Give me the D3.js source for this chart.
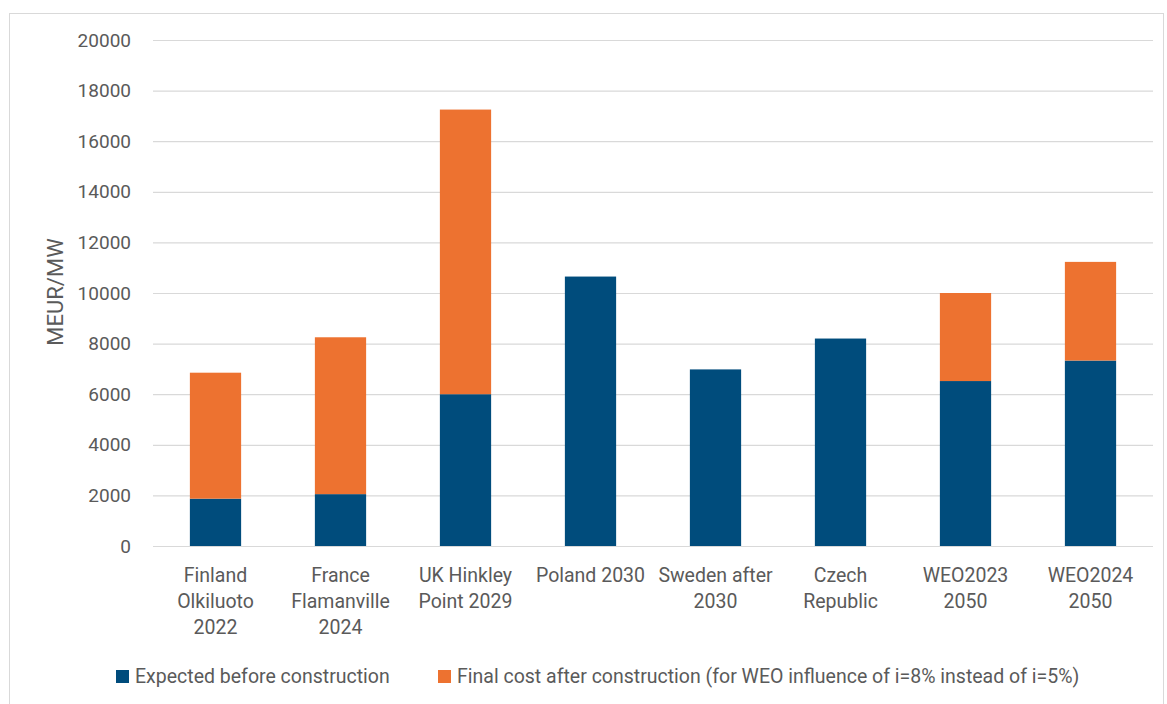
<!DOCTYPE html>
<html>
<head>
<meta charset="utf-8">
<script src="https://cdn.jsdelivr.net/npm/d3@7"></script>
<style>
  html, body { margin: 0; padding: 0; background: #fff; }
  svg { display: block; font-family: Roboto, "Open Sans", sans-serif; }
</style>
</head>
<body>
<svg id="chart" width="1167" height="704"></svg>
<script>
// ---- data ----
const categories = ["Finland Olkiluoto 2022", "France Flamanville 2024", "UK Hinkley Point 2029",
  "Poland 2030", "Sweden after 2030", "Czech Republic", "WEO2023 2050", "WEO2024 2050"];
const categoryLines = [["Finland", "Olkiluoto", "2022"], ["France", "Flamanville", "2024"],
  ["UK Hinkley", "Point 2029"], ["Poland 2030"], ["Sweden after", "2030"], ["Czech", "Republic"],
  ["WEO2023", "2050"], ["WEO2024", "2050"]];
const expectedBefore = [1870, 2050, 6000, 10650, 6980, 8200, 6520, 7330];
const finalCost = [6850, 8250, 17250, null, null, null, 10000, 11230];
const yTicks = [0, 2000, 4000, 6000, 8000, 10000, 12000, 14000, 16000, 18000, 20000];
const seriesNames = ["Expected before construction",
  "Final cost after construction (for WEO influence of i=8% instead of i=5%)"];
const colors = ["#004c7c", "#ed7230"];

(function () {
// ---- layout ----
const svg = d3.select("#chart");
const mLeft = 153, mRight = 1153, mTop = 40, mBottom = 546;
const textColor = "#5a5a5a";

svg.append("rect").attr("x", 9.5).attr("y", 13.5).attr("width", 1154).attr("height", 720)
  .attr("fill", "none").attr("stroke", "#d9d9d9").attr("stroke-width", 1);

const x = d3.scaleBand().domain(categories).range([mLeft, mRight])
  .paddingInner(0.59).paddingOuter(0.295);
const y = d3.scaleLinear().domain([0, 20000]).range([mBottom, mTop]);

// gridlines
const yAxis = d3.axisLeft(y).tickValues(yTicks).tickSize(-(mRight - mLeft)).tickPadding(22)
  .tickFormat(d3.format("d"));
const gy = svg.append("g").attr("transform", `translate(${mLeft},0)`).call(yAxis);
gy.select(".domain").remove();
gy.selectAll(".tick line").attr("stroke", "#d9d9d9").attr("stroke-width", 1.2);
gy.selectAll(".tick text").attr("fill", textColor).attr("font-size", 19)
  .attr("font-family", "Roboto, sans-serif");

// bars
svg.append("g").selectAll("rect.exp").data(categories).join("rect")
  .attr("class", "exp")
  .attr("x", d => x(d)).attr("width", x.bandwidth())
  .attr("y", (d, i) => y(expectedBefore[i]))
  .attr("height", (d, i) => y(0) - y(expectedBefore[i]))
  .attr("fill", colors[0]);

svg.append("g").selectAll("rect.fin").data(categories.filter((d, i) => finalCost[i] != null)).join("rect")
  .attr("class", "fin")
  .attr("x", d => x(d)).attr("width", x.bandwidth())
  .attr("y", d => y(finalCost[categories.indexOf(d)]))
  .attr("height", d => { const i = categories.indexOf(d); return y(expectedBefore[i]) - y(finalCost[i]); })
  .attr("fill", colors[1]);

// x axis labels
const xAxis = d3.axisBottom(x).tickSize(0).tickFormat(() => "");
const gx = svg.append("g").attr("transform", `translate(0,${mBottom})`).call(xAxis);
gx.select(".domain").remove();
gx.selectAll(".tick").each(function(d, i) {
  const t = d3.select(this).append("text")
    .attr("fill", textColor).attr("font-size", 19.5).attr("text-anchor", "middle")
    .attr("font-family", "Roboto, sans-serif");
  categoryLines[i].forEach((line, k) => {
    t.append("tspan").attr("x", 0).attr("y", 36 + k * 26).text(line);
  });
});

// y axis title
svg.append("text").attr("transform", "translate(63,292) rotate(-90)")
  .attr("text-anchor", "middle").attr("fill", textColor).attr("font-size", 22)
  .attr("font-family", "Roboto, sans-serif").text("MEUR/MW");

// legend
const legendX = [116, 438];
const lg = svg.append("g");
seriesNames.forEach((name, i) => {
  lg.append("rect").attr("x", legendX[i]).attr("y", 670).attr("width", 13).attr("height", 13)
    .attr("fill", colors[i]);
  lg.append("text").attr("x", legendX[i] + 19).attr("y", 683)
    .attr("fill", textColor).attr("font-size", 19.5).attr("font-family", "Roboto, sans-serif")
    .text(name);
});
})();
</script>
</body>
</html>
